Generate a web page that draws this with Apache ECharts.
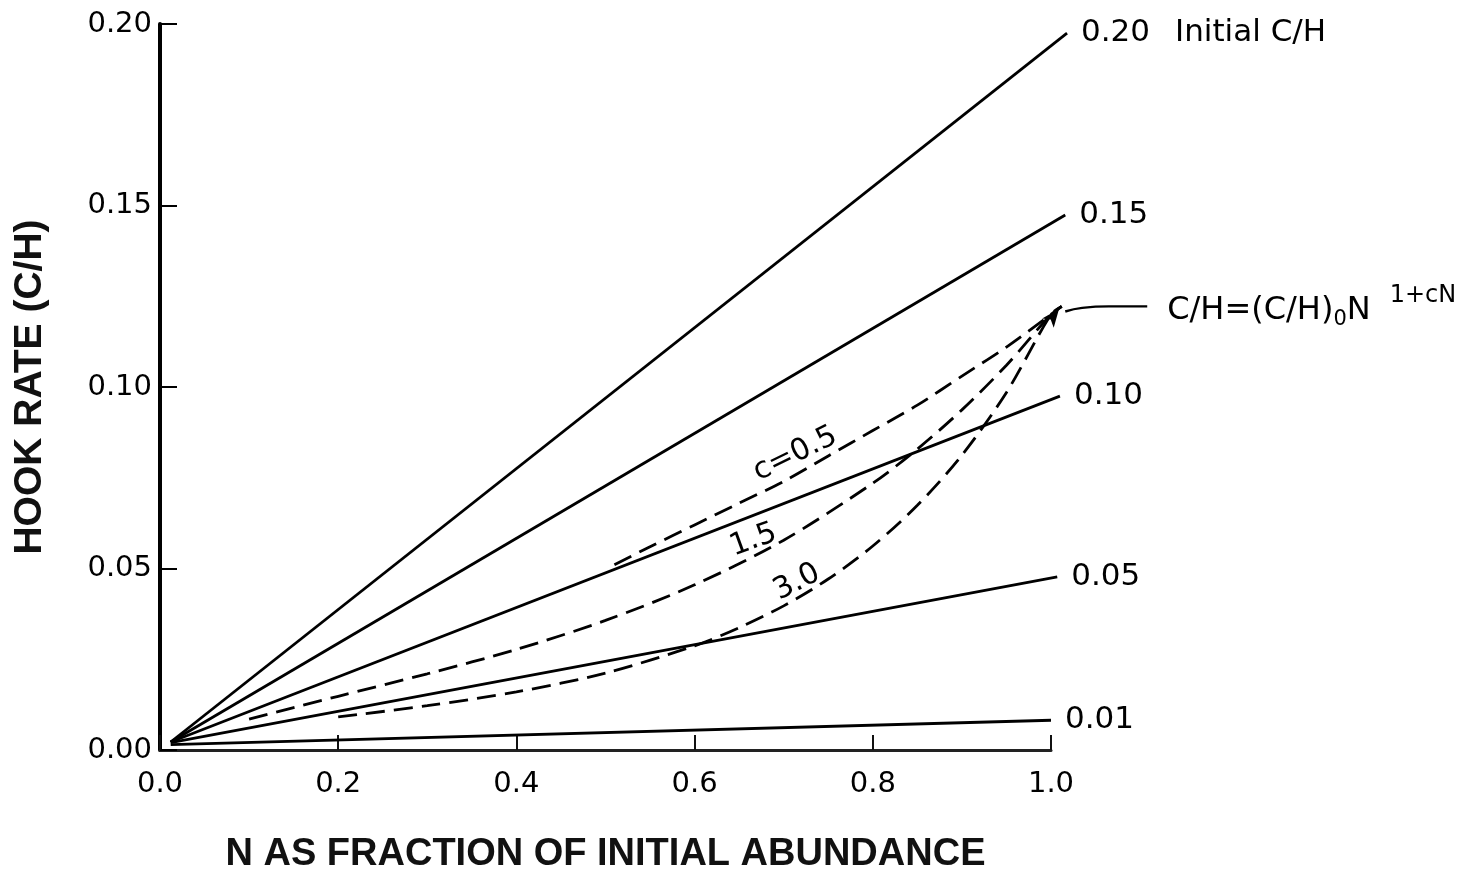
<!DOCTYPE html>
<html>
<head>
<meta charset="utf-8">
<script src="https://cdn.jsdelivr.net/npm/echarts@6/dist/echarts.min.js"></script>
<style>html,body{margin:0;padding:0;background:#fff}#c{width:1475px;height:873px}</style>
</head>
<body>
<div id="c"></div>
<script>
// Solid lines: constant initial C/H (N, C/H)
const line020 = [[0.012, 0.0022], [1.018, 0.1975]];
const line015 = [[0.012, 0.0022], [1.016, 0.1474]];
const line010 = [[0.012, 0.0022], [1.010, 0.0975]];
const line005 = [[0.012, 0.0020], [1.007, 0.0477]];
const line001 = [[0.012, 0.0015], [1.000, 0.0082]];
const lineLabels = ['0.20', '0.15', '0.10', '0.05', '0.01'];

// Dashed curves (N, C/H)
const curveC05 = [[0.51,0.051],[0.55,0.056],[0.60,0.062],[0.65,0.068],[0.70,0.074],[0.75,0.081],[0.80,0.088],[0.85,0.095],[0.90,0.103],[0.95,0.111],[1.00,0.120],[1.012,0.1222]];
const curveC15 = [[0.10,0.0085],[0.15,0.0117],[0.20,0.0148],[0.30,0.021],[0.40,0.0277],[0.50,0.0357],[0.60,0.0455],[0.70,0.0578],[0.80,0.0735],[0.85,0.0829],[0.90,0.0937],[0.95,0.106],[1.00,0.120],[1.012,0.1222]];
const curveC30 = [[0.20,0.0091],[0.30,0.0122],[0.40,0.016],[0.50,0.0212],[0.60,0.0287],[0.65,0.0337],[0.70,0.0397],[0.75,0.0471],[0.80,0.0562],[0.85,0.0674],[0.90,0.0812],[0.95,0.0985],[1.00,0.120],[1.012,0.1222]];
const curveLabels = ['c=0.5', '1.5', '3.0'];

// Leader from curve end to the formula
const leader = [[1.016, 0.1208], [1.035, 0.1218], [1.065, 0.1222], [1.108, 0.1222]];

const xTitle = 'N AS FRACTION OF INITIAL ABUNDANCE';
const yTitle = 'HOOK RATE (C/H)';

const FONT = 'DejaVu Sans';
const X_OVER = 1.12;           // extent of the drawing grid beyond N = 1.0
const AXIS_W = 891;            // pixel width of N in [0, 1]
const chart = echarts.init(document.getElementById('c'), null, {renderer: 'canvas'});

function solid(data, label, extra) {
  return {
    type: 'line', data: data, xAxisIndex: 1, yAxisIndex: 1, clip: false, symbol: 'none', silent: true,
    lineStyle: {color: '#000', width: 2.8},
    endLabel: {
      show: true, distance: 14, color: '#000', fontFamily: FONT, fontSize: 31,
      formatter: extra ? ('{v|' + label + '}{n|' + extra + '}') : label,
      rich: extra ? {v: {fontFamily: FONT, fontSize: 31, color: '#000'}, n: {fontFamily: FONT, fontSize: 31, color: '#000', padding: [0, 0, 0, 25]}} : undefined
    }
  };
}
function dashed(data) {
  return {
    type: 'line', data: data, xAxisIndex: 1, yAxisIndex: 1, clip: false, symbol: 'none', smooth: 0.3, silent: true,
    lineStyle: {color: '#000', width: 2.8, type: [19, 9]}
  };
}

const option = {
  animation: false,
  backgroundColor: '#fff',
  grid: [
    {left: 160, width: AXIS_W, top: 24, bottom: 123, containLabel: false, outerBoundsMode: 'none'},
    {left: 160, width: AXIS_W * X_OVER, top: 24, bottom: 123, containLabel: false, outerBoundsMode: 'none'}
  ],
  xAxis: [{
    type: 'value', gridIndex: 0, min: 0, max: 1, interval: 0.2,
    name: xTitle, nameLocation: 'middle', nameGap: 86,
    nameTextStyle: {fontFamily: 'Liberation Sans', fontWeight: 'bold', fontSize: 38, color: '#111'},
    axisLine: {show: true, onZero: false, lineStyle: {color: '#222', width: 3}},
    axisTick: {show: true, inside: true, length: 15, lineStyle: {color: '#111', width: 2}},
    axisLabel: {margin: 20, fontFamily: FONT, fontSize: 29, color: '#000', formatter: v => v.toFixed(1)},
    splitLine: {show: false}
  }, {
    type: 'value', gridIndex: 1, min: 0, max: X_OVER, show: false, splitLine: {show: false}
  }],
  yAxis: [{
    type: 'value', gridIndex: 0, min: 0, max: 0.2, interval: 0.05,
    name: yTitle, nameLocation: 'middle', nameGap: 110, nameRotate: 90,
    nameTextStyle: {fontFamily: 'Liberation Sans', fontWeight: 'bold', fontSize: 39, color: '#111'},
    axisLine: {show: true, onZero: false, lineStyle: {color: '#000', width: 4}},
    axisTick: {show: true, inside: true, length: 17, lineStyle: {color: '#000', width: 2}},
    axisLabel: {margin: 8, fontFamily: FONT, fontSize: 29, color: '#000', formatter: v => v.toFixed(2)},
    splitLine: {show: false}
  }, {
    type: 'value', gridIndex: 1, min: 0, max: 0.2, show: false, splitLine: {show: false}
  }],
  series: [
    solid(line020, lineLabels[0], 'Initial C/H'),
    solid(line015, lineLabels[1]),
    solid(line010, lineLabels[2]),
    solid(line005, lineLabels[3]),
    solid(line001, lineLabels[4]),
    dashed(curveC05),
    dashed(curveC15),
    dashed(curveC30),
    {
      type: 'line', data: leader, xAxisIndex: 1, yAxisIndex: 1, clip: false, symbol: 'none', smooth: true, silent: true,
      lineStyle: {color: '#000', width: 2.4},
      endLabel: {
        show: true, distance: 20, color: '#000', offset: [0, 4],
        formatter: '{a|C/H=(C/H)}{b|0}{a|N}{c|1+cN}',
        rich: {
          a: {fontFamily: FONT, fontSize: 32, color: '#000'},
          b: {fontFamily: FONT, fontSize: 21, color: '#000', padding: [18, 0, 0, 0]},
          c: {fontFamily: FONT, fontSize: 24, color: '#000', padding: [0, 0, 30, 19]}
        }
      }
    },
    {
      type: 'scatter', xAxisIndex: 1, yAxisIndex: 1, clip: false, silent: true,
      data: [{value: [1.009, 0.1215]}],
      symbol: 'arrow', symbolSize: [11, 18], symbolRotate: -38,
      itemStyle: {color: '#000', opacity: 1}
    },
    {
      type: 'scatter', xAxisIndex: 1, yAxisIndex: 1, clip: false, silent: true, symbolSize: 0,
      itemStyle: {opacity: 1},
      data: [
        {value: [0.713, 0.0815], name: curveLabels[0], label: {rotate: 26}},
        {value: [0.666, 0.0578], name: curveLabels[1], label: {rotate: 20}},
        {value: [0.715, 0.0462], name: curveLabels[2], label: {rotate: 27}}
      ],
      label: {show: true, position: 'inside', formatter: p => p.name, fontFamily: FONT, fontSize: 30, color: '#000', opacity: 1}
    }
  ]
};
chart.setOption(option);
</script>
</body>
</html>
